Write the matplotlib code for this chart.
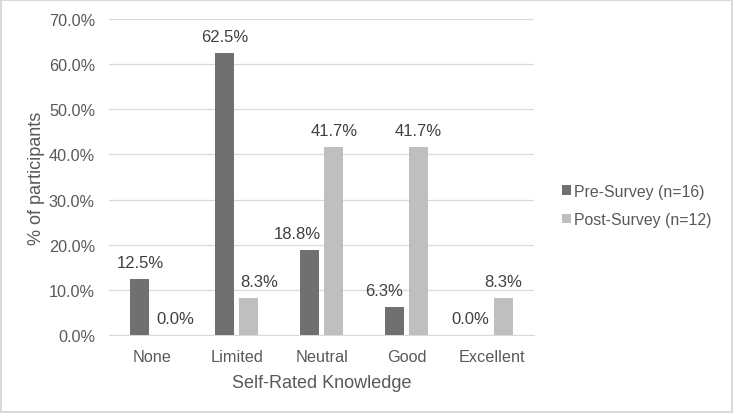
import matplotlib
matplotlib.use("Agg")
import matplotlib.pyplot as plt
import numpy as np
from matplotlib.patches import Rectangle

categories = ["None", "Limited", "Neutral", "Good", "Excellent"]
pre_survey = [12.5, 62.5, 18.8, 6.3, 0.0]
post_survey = [0.0, 8.3, 41.7, 41.7, 8.3]
series_names = ["Pre-Survey (n=16)", "Post-Survey (n=12)"]
y_ticks = [0, 10, 20, 30, 40, 50, 60, 70]

# horizontal nudges (pixels) that the original applied to avoid label overlap
pre_label_shift = [0, 0, -12, -11, -9]
post_label_shift = [11, 10, 0, 0, 0]

plt.rcParams['font.family'] = ['Liberation Sans', 'DejaVu Sans']
text_color = "#595959"
dark = "#707070"
light = "#bfbfbf"

fig = plt.figure(figsize=(7.33, 4.14), dpi=100)
ax = fig.add_axes([109.5 / 733, 1 - 336 / 414, 424.5 / 733, 316 / 414])

x = np.arange(len(categories))
w = 0.224
off = 0.141
b1 = ax.bar(x - off, pre_survey, w, color=dark, label=series_names[0], zorder=3)
b2 = ax.bar(x + off, post_survey, w, color=light, label=series_names[1], zorder=3)

px2pt = 0.72
for bars, vals, shifts in ((b1, pre_survey, pre_label_shift), (b2, post_survey, post_label_shift)):
    for r, v, s in zip(bars, vals, shifts):
        ax.annotate(f"{v:.1f}%", (r.get_x() + r.get_width() / 2, v),
                    xytext=(s * px2pt, 16.5 * px2pt), textcoords="offset points",
                    ha="center", va="center", fontsize=12, color="#404040")

ax.set_ylim(0, 70)
ax.set_xlim(-0.5, len(categories) - 0.5)
ax.set_yticks(y_ticks)
ax.set_yticklabels([f"{t:.1f}%" for t in y_ticks])
ax.set_xticks(x)
ax.set_xticklabels(categories)
ax.tick_params(axis="both", length=0, labelsize=11.7, colors=text_color)
ax.tick_params(axis="x", pad=10)
ax.tick_params(axis="y", pad=10.5)
ax.grid(axis="y", color="#d9d9d9", linewidth=0.9, zorder=0)
for s in ["top", "right", "left"]:
    ax.spines[s].set_visible(False)
ax.spines["bottom"].set_color("#d9d9d9")
ax.set_xlabel("Self-Rated Knowledge", fontsize=13, color=text_color, labelpad=7)
ax.set_ylabel("% of participants", fontsize=13, color=text_color, labelpad=3)

leg = fig.legend(loc="center left", bbox_to_anchor=(562 / 733, 1 - 206.5 / 414),
                 bbox_transform=fig.transFigure, frameon=False,
                 fontsize=11.4, handlelength=0.55, handleheight=0.55,
                 handletextpad=0.2, labelspacing=0.85, borderpad=0, borderaxespad=0)
for t in leg.get_texts():
    t.set_color(text_color)

fig.patches.append(Rectangle((0.002, 0.003), 0.996, 0.994, transform=fig.transFigure,
                             fill=False, edgecolor="#d9d9d9", linewidth=1.5))

fig.savefig("out.png", dpi=100)
